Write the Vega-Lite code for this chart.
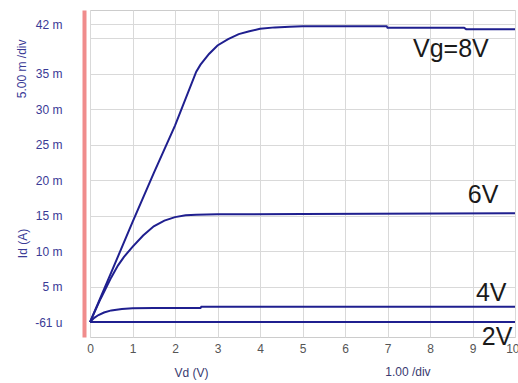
{
  "$schema": "https://vega.github.io/schema/vega-lite/v6.json",
  "width": 425,
  "height": 327,
  "autosize": "none",
  "padding": {"left": 90, "top": 10, "right": 3, "bottom": 46},
  "background": "white",
  "config": {
    "view": {"stroke": "#cccccc", "strokeWidth": 1},
    "font": "Liberation Sans, Arial, sans-serif"
  },
  "datasets": {
    "curves": [
      {"vg": "8V", "vd": 0, "id": 0}, {"vg": "8V", "vd": 0.5, "id": 7.0}, {"vg": "8V", "vd": 1, "id": 14.1},
      {"vg": "8V", "vd": 1.5, "id": 21.0}, {"vg": "8V", "vd": 2, "id": 27.7}, {"vg": "8V", "vd": 2.5, "id": 35.3},
      {"vg": "8V", "vd": 2.6, "id": 36.3}, {"vg": "8V", "vd": 2.8, "id": 37.8}, {"vg": "8V", "vd": 3, "id": 39.0},
      {"vg": "8V", "vd": 3.25, "id": 39.9}, {"vg": "8V", "vd": 3.5, "id": 40.6}, {"vg": "8V", "vd": 3.75, "id": 41.0},
      {"vg": "8V", "vd": 4, "id": 41.35}, {"vg": "8V", "vd": 4.35, "id": 41.55}, {"vg": "8V", "vd": 4.7, "id": 41.65},
      {"vg": "8V", "vd": 5, "id": 41.7}, {"vg": "8V", "vd": 6.98, "id": 41.7}, {"vg": "8V", "vd": 7.0, "id": 41.5},
      {"vg": "8V", "vd": 8.8, "id": 41.5}, {"vg": "8V", "vd": 8.85, "id": 41.3}, {"vg": "8V", "vd": 10, "id": 41.3},
      {"vg": "6V", "vd": 0, "id": 0}, {"vg": "6V", "vd": 0.25, "id": 3.3}, {"vg": "6V", "vd": 0.5, "id": 6.3},
      {"vg": "6V", "vd": 0.66, "id": 8.0}, {"vg": "6V", "vd": 0.8, "id": 9.2}, {"vg": "6V", "vd": 1, "id": 10.6},
      {"vg": "6V", "vd": 1.25, "id": 12.2}, {"vg": "6V", "vd": 1.5, "id": 13.5}, {"vg": "6V", "vd": 1.75, "id": 14.3},
      {"vg": "6V", "vd": 2, "id": 14.8}, {"vg": "6V", "vd": 2.25, "id": 15.05}, {"vg": "6V", "vd": 2.5, "id": 15.15},
      {"vg": "6V", "vd": 3, "id": 15.2}, {"vg": "6V", "vd": 5, "id": 15.25}, {"vg": "6V", "vd": 10, "id": 15.35},
      {"vg": "4V", "vd": 0, "id": 0}, {"vg": "4V", "vd": 0.1, "id": 0.6}, {"vg": "4V", "vd": 0.2, "id": 1.0},
      {"vg": "4V", "vd": 0.33, "id": 1.35}, {"vg": "4V", "vd": 0.5, "id": 1.65}, {"vg": "4V", "vd": 0.75, "id": 1.85},
      {"vg": "4V", "vd": 1, "id": 1.95}, {"vg": "4V", "vd": 1.5, "id": 2.0}, {"vg": "4V", "vd": 2.6, "id": 2.0},
      {"vg": "4V", "vd": 2.62, "id": 2.15}, {"vg": "4V", "vd": 10, "id": 2.15},
      {"vg": "2V", "vd": 0, "id": 0}, {"vg": "2V", "vd": 10, "id": 0}
    ],
    "labels": [
      {"vd": 7.6, "id": 37.4, "label": "Vg=8V"},
      {"vd": 8.89, "id": 16.8, "label": "6V"},
      {"vd": 9.08, "id": 3.0, "label": "4V"},
      {"vd": 9.22, "id": -3.2, "label": "2V"}
    ],
    "xnote": [{"vd": 7.48, "id": -7.05, "label": "1.00  /div"}],
    "ynote": [{"vd": -1.6, "id": 35.7, "label": "5.00 m /div"}]
  },
  "encoding": {
    "x": {
      "field": "vd", "type": "quantitative",
      "scale": {"domain": [0, 10], "nice": false, "zero": false},
      "axis": {
        "values": [0, 1, 2, 3, 4, 5, 6, 7, 8, 9, 10],
        "title": "Vd (V)",
        "titleX": 101, "titleY": 35, "titleAnchor": null, "titleAlign": "center", "titleBaseline": "middle",
        "titleFontWeight": "normal", "titleFontSize": 12, "titleColor": "#3a3a70",
        "labelFontSize": 12, "labelColor": "#555555", "labelPadding": 6, "labelFlush": false,
        "labelAlign": {"condition": {"test": "datum.value == 10", "value": "right"}, "value": "center"},
        "labelOffset": {"condition": {"test": "datum.value == 10", "value": 4}, "value": 0},
        "ticks": false, "domain": false,
        "grid": true, "gridColor": "#d9d9d9", "gridWidth": 1
      }
    },
    "y": {
      "field": "id", "type": "quantitative",
      "scale": {"domain": [-2.1, 44], "nice": false, "zero": false},
      "axis": {
        "values": [0, 5, 10, 15, 20, 25, 30, 35, 40, 42],
        "labelExpr": "datum.value == 0 ? '-61 u' : (datum.value == 40 ? '' : datum.value + ' m')",
        "title": "Id (A)",
        "titleX": -62, "titleY": 233, "titleAnchor": null, "titleAlign": "center", "titleBaseline": "middle",
        "titleFontWeight": "normal", "titleFontSize": 12, "titleColor": "#3a3a96",
        "labelFontSize": 12, "labelColor": "#3a3a96", "labelPadding": 22, "labelFlush": false,
        "ticks": false, "offset": 6,
        "domain": true, "domainColor": "#f08c8c", "domainWidth": 4,
        "grid": true, "gridColor": "#d9d9d9", "gridWidth": 1
      }
    }
  },
  "layer": [
    {
      "data": {"name": "curves"},
      "mark": {"type": "line", "color": "#1f1f8f", "strokeWidth": 2},
      "encoding": {"detail": {"field": "vg"}}
    },
    {
      "data": {"name": "labels"},
      "mark": {"type": "text", "align": "left", "baseline": "alphabetic", "fontSize": 25, "color": "#1a1a1a"},
      "encoding": {"text": {"field": "label"}}
    },
    {
      "data": {"name": "xnote"},
      "mark": {"type": "text", "align": "center", "baseline": "middle", "fontSize": 12, "color": "#3a3a70"},
      "encoding": {"text": {"field": "label"}}
    },
    {
      "data": {"name": "ynote"},
      "mark": {"type": "text", "align": "center", "baseline": "middle", "angle": 270, "fontSize": 12, "color": "#3a3a96"},
      "encoding": {"text": {"field": "label"}}
    }
  ]
}
